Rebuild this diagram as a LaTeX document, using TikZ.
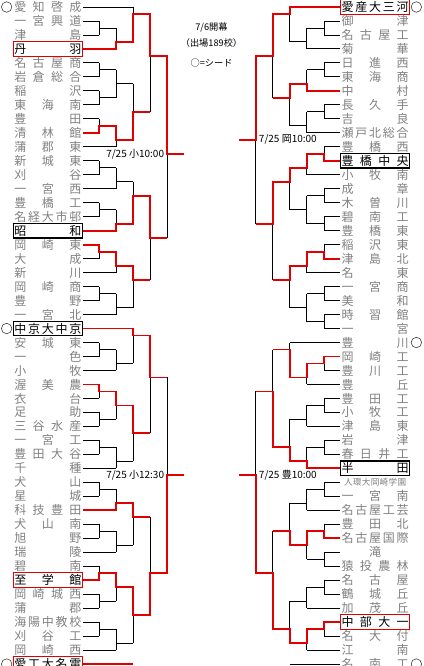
\documentclass[tikz,border=0pt]{standalone}
\usepackage{fontspec}
\setmainfont{Noto Sans CJK JP}
\definecolor{winred}{RGB}{225,0,0}
\definecolor{namegray}{RGB}{128,128,128}
\tikzset{
  bline/.style={draw=black,line width=0.9pt},
  win/.style={draw=winred,line width=1.8pt},
  team/.style={inner sep=0pt,minimum width=69pt,minimum height=14.6pt,
    line width=1.2pt,font=\fontsize{12}{12}\selectfont},
  tg/.style={text=namegray},
  tr/.style={draw=winred,text=black},
  tk/.style={draw=black,text=black},
  seed/.style={circle,draw=black!75,line width=0.6pt,inner sep=0pt,minimum size=10.5pt},
  slot/.style={font=\fontsize{10}{10}\selectfont,inner sep=0pt},
  note/.style={font=\fontsize{9.2}{9.2}\selectfont,inner sep=0pt},
}
% team name spread over the full name cell
\newcommand\spread[1]{\makebox[67pt][s]{\spaceskip=0pt plus 1fil\relax\ignorespaces#1}}
% #1 node prefix, #2 anchor, #3 row/level of each team, #4 level/top/bottom/out/next of each match
\newcommand\drawbracket[4]{%
  \foreach \row/\lev in {#3} \draw[bline] (#1\row.#2) -- (\lev,\row);
  \foreach \lev/\ya/\yb/\yo/\nx in {#4} {
    \draw[bline] (\lev,\ya) -- (\lev,\yb);
    \draw[bline] (\lev,\yo) -- (\nx,\yo);
  }%
}

\begin{document}
\begin{tikzpicture}
  \useasboundingbox (0,0) rectangle (423pt,-666pt);
  \clip (0,0) rectangle (423pt,-666pt);

  % left half
  \begin{scope}[x=17.05pt,y=-13.98pt,shift={(82pt,6.98pt)}]
    \foreach \n/\s [count=\i] in {
      愛 知 啓 成/g, 一 宮 興 道/g, 津 島/g, 丹 羽/r, 名 古 屋 商/g, 岩 倉 総 合/g,
      稲 沢/g, 東 海 南/g, 豊 田/g, 清 林 館/g, 蒲 郡 東/g, 新 城 東/g,
      刈 谷/g, 一 宮 西/g, 豊 橋 工/g, 名 経 大 市 邨/g, 昭 和/k, 岡 崎 東/g,
      大 成/g, 新 川/g, 岡 崎 商/g, 豊 野/g, 一 宮 北/g, 中 京 大 中 京/k,
      安 城 東/g, 一 色/g, 小 牧/g, 渥 美 農/g, 衣 台/g, 足 助/g,
      三 谷 水 産/g, 一 宮 工/g, 豊 田 大 谷/g, 千 種/g, 犬 山/g, 星 城/g,
      科 技 豊 田/g, 犬 山 南/g, 旭 野/g, 瑞 陵/g, 碧 南/g, 至 学 館/r,
      岡 崎 城 西/g, 蒲 郡/g, 海 陽 中 教 校/g, 刈 谷 工/g, 岡 崎 西/g, 愛 工 大 名 電/r}
      \node[team,t\s] (l\i) at (-2,\i) {\spread{\n}};
    \foreach \i in {1,24,48} \node[seed] (sl\i) at (-4.42,\i) {};

    \drawbracket{l}{east}{1/3, 2/1, 3/1, 4/2, 5/1, 6/1, 7/1, 8/1, 9/1, 10/1, 11/2, 12/1,
      13/1, 14/2, 15/1, 16/1, 17/2, 18/1, 19/1, 20/2, 21/1, 22/1, 23/2,
      24/3, 25/1, 26/1, 27/2, 28/1, 29/1, 30/1, 31/1, 32/1, 33/1, 34/2, 35/1, 36/1,
      37/2, 38/1, 39/1, 40/2, 41/1, 42/1, 43/1, 44/1, 45/1, 46/1, 47/2, 48/3}
    {1/2/3/2.5/2, 2/2.5/4/3.5/3, 3/1/3.5/1.5/4,
     1/5/6/5.5/2, 1/7/8/7.5/2, 2/5.5/7.5/6.5/3, 1/9/10/9.5/2, 2/9.5/11/10.5/3, 3/6.5/10.5/8.5/4,
     4/1.5/8.5/4.5/5,
     1/12/13/12.5/2, 2/12.5/14/13.5/3, 1/15/16/15.5/2, 2/15.5/17/16.5/3, 3/13.5/16.5/14.5/4,
     1/18/19/18.5/2, 2/18.5/20/19.5/3, 1/21/22/21.5/2, 2/21.5/23/22.5/3, 3/19.5/22.5/20.5/4,
     4/14.5/20.5/17.5/5,
     5/4.5/17.5/11.5/6,
     1/25/26/25.5/2, 2/25.5/27/26.5/3, 3/24/26.5/24.5/4,
     1/28/29/28.5/2, 1/30/31/30.5/2, 2/28.5/30.5/29.5/3, 1/32/33/32.5/2, 2/32.5/34/33.5/3,
     3/29.5/33.5/31.5/4,
     4/24.5/31.5/27.5/5,
     1/35/36/35.5/2, 2/35.5/37/36.5/3, 1/38/39/38.5/2, 2/38.5/40/39.5/3, 3/36.5/39.5/37.5/4,
     1/41/42/41.5/2, 1/43/44/43.5/2, 2/41.5/43.5/42.5/3, 1/45/46/45.5/2, 2/45.5/47/46.5/3,
     3/42.5/46.5/44.5/4,
     4/37.5/44.5/41.5/5,
     5/27.5/41.5/34.5/6}

    % winners
    \draw[win] (l4.east) -| (2,3.5) -| (3,1.5) -| (4,4.5) -| (5,11.5) -- (6,11.5);
    \draw[win] (l10.east) -| (1,9.5) -| (2,10.5) -| (3,8.5) -- (4,8.5);
    \draw[win] (l17.east) -| (2,16.5) -| (3,14.5) -| (4,17.5) -- (5,17.5);
    \draw[win] (l18.east) -| (1,18.5) -| (2,19.5) -| (3,20.5) -- (4,20.5);
    \draw[win] (l24.east) -| (3,24.5) -| (4,27.5) -- (5,27.5);
    \draw[win] (l28.east) -| (1,28.5) -| (2,29.5) -| (3,31.5) -- (4,31.5);
    \draw[win] (l37.east) -| (2,36.5) -| (3,37.5) -- (4,37.5);
    \draw[win] (l42.east) -| (1,41.5) -| (2,42.5) -| (3,44.5) -| (4,41.5) -| (5,34.5) -- (6,34.5);
    \draw[win] (l48.east) -- (3,48);

    \node[slot,anchor=east,xshift=-3pt] (dl1) at (5,11.5) {7/25 小10:00};
    \node[slot,anchor=east,xshift=-3pt] (dl2) at (5,34.5) {7/25 小12:30};
  \end{scope}

  % right half
  \begin{scope}[x=-17.05pt,y=-13.98pt,shift={(341pt,6.98pt)}]
    \foreach \n/\s [count=\i] in {
      愛 産 大 三 河/r, 御 津/g, 名 古 屋 工/g, 菊 華/g, 日 進 西/g, 東 海 商/g,
      中 村/g, 長 久 手/g, 吉 良/g, 瀬 戸 北 総 合/g, 豊 橋 西/g, 豊 橋 中 央/k,
      小 牧 南/g, 成 章/g, 木 曽 川/g, 碧 南 工/g, 豊 橋 東/g, 稲 沢 東/g,
      津 島 北/g, 名 東/g, 一 宮 商/g, 美 和/g, 時 習 館/g, 一 宮/g,
      豊 川/g, 岡 崎 工/g, 豊 川 工/g, 豊 丘/g, 豊 田 工/g, 小 牧 工/g,
      津 島 東/g, 岩 津/g, 春 日 井 工/g, 半 田/k,
      \hfil\makebox[62pt][s]{\fontsize{8.6}{9}\selectfont 人 環 大 岡 崎 学 園}\hfil/g, 一 宮 南/g,
      名 古 屋 工 芸/g, 豊 田 北/g, 名 古 屋 国 際/g, \hfil 滝\hfil/g, 猿 投 農 林/g, 名 古 屋/g,
      鶴 城 丘/g, 加 茂 丘/g, 中 部 大 一/r, 名 大 付/g, 江 南/g, 名 南 工/g}
      \node[team,t\s] (r\i) at (-2,\i) {\spread{\n}};
    \foreach \i in {1,25,48} \node[seed] (sr\i) at (-4.42,\i) {};

    \drawbracket{r}{west}{1/3, 2/1, 3/1, 4/2, 5/1, 6/1, 7/2, 8/1, 9/1, 10/2, 11/1, 12/1,
      13/2, 14/1, 15/1, 16/1, 17/1, 18/1, 19/1, 20/2, 21/1, 22/1, 23/1, 24/1,
      25/3, 26/1, 27/1, 28/2, 29/1, 30/1, 31/2, 32/1, 33/1, 34/2, 35/1, 36/1,
      37/2, 38/1, 39/1, 40/1, 41/1, 42/1, 43/1, 44/2, 45/1, 46/1, 47/2, 48/3}
    {1/2/3/2.5/2, 2/2.5/4/3.5/3, 3/1/3.5/1.5/4,
     1/5/6/5.5/2, 2/5.5/7/6.5/3, 1/8/9/8.5/2, 2/8.5/10/9.5/3, 3/6.5/9.5/7.5/4,
     4/1.5/7.5/4.5/5,
     1/11/12/11.5/2, 2/11.5/13/12.5/3, 1/14/15/14.5/2, 1/16/17/16.5/2, 2/14.5/16.5/15.5/3,
     3/12.5/15.5/13.5/4,
     1/18/19/18.5/2, 2/18.5/20/19.5/3, 1/21/22/21.5/2, 1/23/24/23.5/2, 2/21.5/23.5/22.5/3,
     3/19.5/22.5/20.5/4,
     4/13.5/20.5/16.5/5,
     5/4.5/16.5/10.5/6,
     1/26/27/26.5/2, 2/26.5/28/27.5/3, 3/25/27.5/25.5/4,
     1/29/30/29.5/2, 2/29.5/31/30.5/3, 1/32/33/32.5/2, 2/32.5/34/33.5/3, 3/30.5/33.5/32.5/4,
     4/25.5/32.5/28.5/5,
     1/35/36/35.5/2, 2/35.5/37/36.5/3, 1/38/39/38.5/2, 1/40/41/40.5/2, 2/38.5/40.5/39.5/3,
     3/36.5/39.5/38.5/4,
     1/42/43/42.5/2, 2/42.5/44/43.5/3, 1/45/46/45.5/2, 2/45.5/47/46.5/3, 3/43.5/46.5/45.5/4,
     4/38.5/45.5/41.5/5,
     5/28.5/41.5/34.5/6}

    % winners
    \draw[win] (r1.west) -| (3,1.5) -| (4,4.5) -| (5,10.5) -- (6,10.5);
    \draw[win] (r7.west) -| (2,6.5) -| (3,7.5) -- (4,7.5);
    \draw[win] (r12.west) -| (1,11.5) -| (2,12.5) -| (3,13.5) -| (4,16.5) -- (5,16.5);
    \draw[win] (r19.west) -| (1,18.5) -| (2,19.5) -| (3,20.5) -- (4,20.5);
    \draw[win] (r26.west) -| (1,26.5) -| (2,27.5) -| (3,25.5) -- (4,25.5);
    \draw[win] (r34.west) -| (2,33.5) -| (3,32.5) -| (4,28.5) -- (5,28.5);
    \draw[win] (r39.west) -| (1,38.5) -| (2,39.5) -| (3,38.5) -- (4,38.5);
    \draw[win] (r45.west) -| (1,45.5) -| (2,46.5) -| (3,45.5) -| (4,41.5) -| (5,34.5) -- (6,34.5);

    \node[slot,anchor=west,xshift=3pt] (dr1) at (5,10.5) {7/25 岡10:00};
    \node[slot,anchor=west,xshift=3pt] (dr2) at (5,34.5) {7/25 豊10:00};
  \end{scope}

  % heading in the middle
  \node[note] (open) at (211.5pt,-27pt) {7/6開幕};
  \node[note] (count) at (211.5pt,-43.5pt) {（出場189校）};
  \node[note] (legend) at (211.5pt,-63pt) {○=シード};
\end{tikzpicture}
\end{document}
